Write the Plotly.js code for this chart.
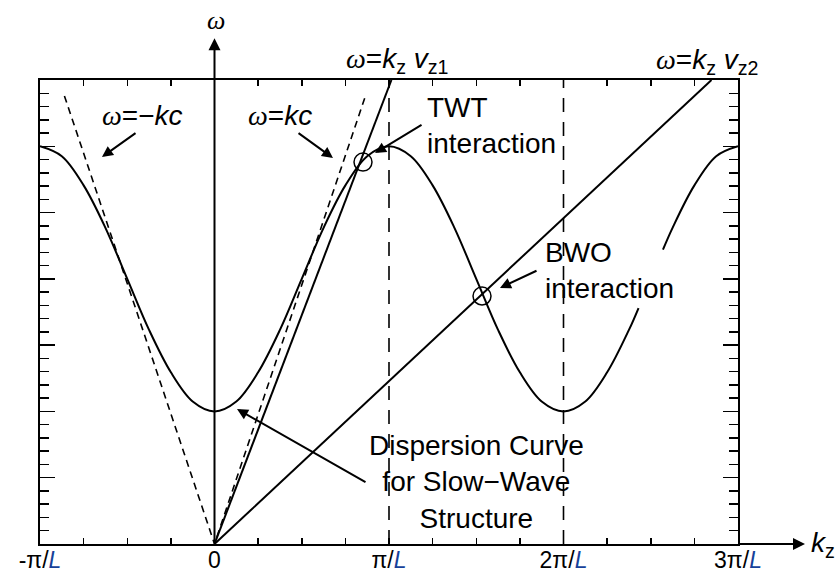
<!DOCTYPE html>
<html>
<head>
<meta charset="utf-8">
<script src="https://cdn.plot.ly/plotly-3.0.1.min.js"></script>
<style>html,body{margin:0;padding:0;background:#fff;}#chart{width:840px;height:574px;}</style>
</head>
<body>
<div id="chart"></div>
<script>
// k in units of pi/L, omega in arbitrary units
const kCurve = [-1, -0.875, -0.75, -0.625, -0.5, -0.375, -0.25, -0.125, 0, 0.125, 0.25, 0.375, 0.5, 0.625, 0.75, 0.875, 1, 1.125, 1.25, 1.375, 1.5, 1.625, 1.75, 1.875, 2, 2.125, 2.25, 2.375, 2.43, null, 2.57, 2.625, 2.75, 2.875, 3];
const wCurve = [6.0, 5.85, 5.41, 4.77, 4.0, 3.23, 2.59, 2.15, 2.0, 2.15, 2.59, 3.23, 4.0, 4.77, 5.41, 5.85, 6.0, 5.85, 5.41, 4.77, 4.0, 3.23, 2.59, 2.15, 2.0, 2.15, 2.59, 3.23, 3.56, null, 4.44, 4.77, 5.41, 5.85, 6.0];
const lightK = [-0.86, 0, 0.865];
const lightW = [6.76, 0, 6.76];
const beam1K = [0, 1.014];
const beam1W = [0, 7];
const beam2K = [0, 2.848];
const beam2W = [0, 7];
const zoneK = [1, 1, null, 2, 2];
const zoneW = [0, 7, null, 0, 7];
const tickK = [-1, 0, 1, 2, 3];
const Lsp = '<span style="color:#16419a"><i>L</i></span>';
const tickLabels = ['-π/' + Lsp, '0', 'π/' + Lsp, '2π/' + Lsp, '3π/' + Lsp];
const circleK = [0.851, 1.533];
const circleW = [5.762, 3.741];

const om = '<span style="font-family:\'Liberation Serif\'"><i>ω</i></span>';

// text labels inside the frame (data coordinates)
const labelText = [
  om + '=−<i>kc</i>',
  om + '=<i>kc</i>',
  'TWT<br>interaction',
  'BWO<br>interaction',
  'Dispersion Curve<br>for Slow−Wave<br>Structure'
];
const labelK = [-0.415, 0.375, 1.206, 1.883, 1.504];
const labelW = [6.47, 6.47, 6.32, 4.13, 0.935];
const labelAnchor = ['center', 'center', 'left', 'left', 'center'];

// text labels outside the frame (paper coordinates)
const outerText = [
  om + '=<i>k</i><sub>z</sub> <i>v</i><sub>z1</sub>',
  om + '=<i>k</i><sub>z</sub> <i>v</i><sub>z2</sub>',
  om,
  '<i>k</i><sub>z</sub>'
];
const outerX = [0.5115, 0.9556, 0.2521, 1.1218];
const outerY = [1.043, 1.039, 1.129, -0.002];

// pointer arrows: tail -> head
const arrTailK = [-0.444, 0.473, 1.195, 1.854, 0.874];
const arrTailW = [6.215, 6.215, 6.336, 4.133, 0.92];
const arrHeadK = [-0.645, 0.679, 0.92, 1.636, 0.129];
const arrHeadW = [5.838, 5.823, 5.898, 3.862, 2.036];

// axis arrows
const axTailK = [3, 0];
const axTailW = [0, 0];
const axHeadK = [3.384, 0];
const axHeadW = [0, 7.63];

const traces = [
  {x: kCurve, y: wCurve, mode: 'lines', line: {color: '#000', width: 2, shape: 'spline', smoothing: 1}, connectgaps: false},
  {x: lightK, y: lightW, mode: 'lines', line: {color: '#000', width: 1.6, dash: '7px,5px'}},
  {x: beam1K, y: beam1W, mode: 'lines', line: {color: '#000', width: 2}},
  {x: beam2K, y: beam2W, mode: 'lines', line: {color: '#000', width: 2}},
  {x: zoneK, y: zoneW, mode: 'lines', line: {color: '#000', width: 1.6, dash: '14px,10px'}}
];

const FONT = 'Liberation Sans, Arial, sans-serif';
const annotations = [];
labelText.forEach((t, i) => {
  annotations.push({x: labelK[i], y: labelW[i], xref: 'x', yref: 'y', text: t, showarrow: false,
    xanchor: labelAnchor[i], yanchor: 'middle', align: labelAnchor[i] === 'left' ? 'left' : 'center',
    font: {family: FONT, size: 28, color: '#000'}});
});
outerText.forEach((t, i) => {
  annotations.push({x: outerX[i], y: outerY[i], xref: 'paper', yref: 'paper', text: t, showarrow: false,
    xanchor: 'center', yanchor: 'middle', font: {family: FONT, size: i === 2 ? 26 : 28, color: '#000'}});
});
arrTailK.forEach((k, i) => {
  annotations.push({x: arrHeadK[i], y: arrHeadW[i], ax: k, ay: arrTailW[i], xref: 'x', yref: 'y', axref: 'x', ayref: 'y',
    text: '', showarrow: true, arrowhead: 2, arrowsize: 1.1, arrowwidth: 2, arrowcolor: '#000', standoff: 0});
});
axTailK.forEach((k, i) => {
  annotations.push({x: axHeadK[i], y: axHeadW[i], ax: k, ay: axTailW[i], xref: 'x', yref: 'y', axref: 'x', ayref: 'y',
    text: '', showarrow: true, arrowhead: 2, arrowsize: 1.2, arrowwidth: 2, arrowcolor: '#000', standoff: 0});
});

const shapes = circleK.map((k, i) => ({
  type: 'circle', xref: 'x', yref: 'y', xsizemode: 'pixel', ysizemode: 'pixel',
  xanchor: k, yanchor: circleW[i], x0: -9, x1: 9, y0: -9, y1: 9,
  line: {color: '#000', width: 1.5}
}));

const layout = {
  width: 840, height: 574,
  margin: {l: 40, r: 102, t: 80, b: 30},
  paper_bgcolor: '#fff', plot_bgcolor: '#fff',
  showlegend: false,
  font: {family: FONT, color: '#000'},
  xaxis: {
    range: [-1, 3], showgrid: false, zeroline: false, showline: true, linewidth: 2, linecolor: '#000',
    mirror: 'ticks', ticks: 'inside', ticklen: 6, tickwidth: 1.5, tickcolor: '#000',
    tickmode: 'array', tickvals: tickK, ticktext: tickLabels,
    tickfont: {size: 23, color: '#000'}, ticklabelstandoff: -6,
    minor: {dtick: 0.25, tick0: 0, ticks: 'inside', ticklen: 6, tickwidth: 1.5, tickcolor: '#000'}
  },
  yaxis: {
    range: [0, 7], showgrid: false, zeroline: false, showline: true, linewidth: 2, linecolor: '#000',
    mirror: 'ticks', ticks: 'inside', ticklen: 15, tickwidth: 1.5, tickcolor: '#000',
    dtick: 1, tick0: 0, showticklabels: false,
    minor: {dtick: 0.2, tick0: 0, ticks: 'inside', ticklen: 9, tickwidth: 1.5, tickcolor: '#000'}
  },
  annotations: annotations,
  shapes: shapes
};

Plotly.newPlot('chart', traces, layout, {displayModeBar: false, staticPlot: true});
</script>
</body>
</html>
